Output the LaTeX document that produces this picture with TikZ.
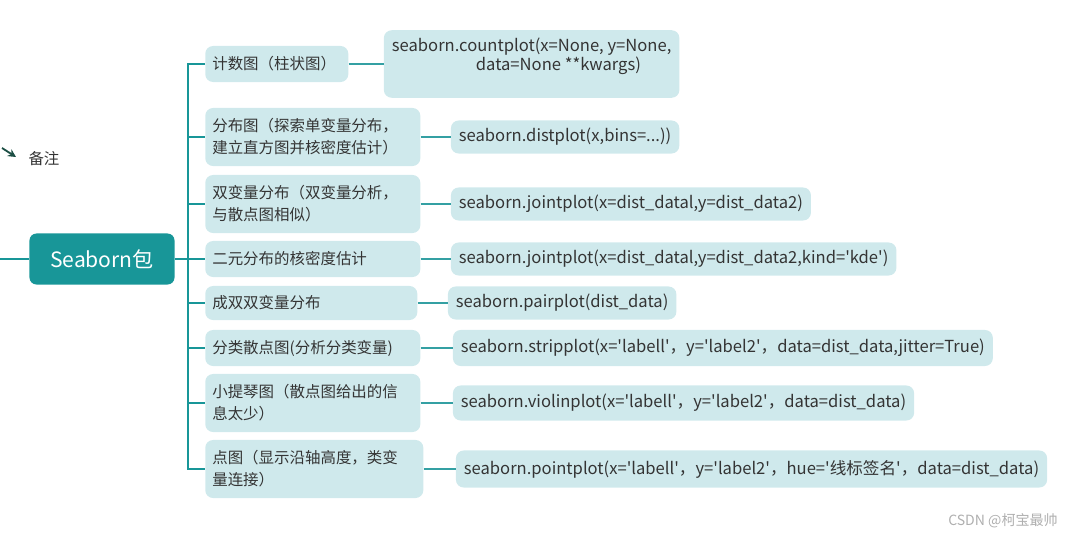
\documentclass[tikz,border=0pt]{standalone}
\usepackage{fontspec}
\setmainfont{Noto Sans CJK SC}
\newfontfamily\codefont{Noto Sans CJK SC}
\usepackage{tikz}
\usetikzlibrary{arrows.meta,positioning}
\definecolor{seateal}{RGB}{24,150,152}
\definecolor{linkteal}{RGB}{52,160,163}
\definecolor{boxfill}{RGB}{207,233,236}
\definecolor{inkgray}{RGB}{52,52,52}
\definecolor{notegreen}{RGB}{28,78,68}
\definecolor{markgray}{RGB}{175,175,175}

\begin{document}
\begin{tikzpicture}[x=0.025cm, y=-0.025cm,
    root/.style={fill=seateal, rounded corners=5pt, text=white, minimum width=3.625cm, minimum height=1.275cm, font=\fontsize{15}{18}\selectfont},
    kind/.style={fill=boxfill, rounded corners=5.5pt, text=inkgray, anchor=west, align=left, text width=#1, inner xsep=0.175cm, minimum height=0.9cm, font=\fontsize{11}{15.6}\selectfont},
    kind/.default=5.025cm,
    code/.style={fill=boxfill, rounded corners=5.5pt, text=inkgray, align=left, inner xsep=0.2cm, minimum height=0.825cm, font=\codefont\fontsize{11.8}{13.5}\selectfont},
    trunk/.style={draw=seateal, line width=1.9pt},
    link/.style={draw=linkteal, line width=1.1pt}
]
\useasboundingbox (0,0) rectangle (1080,539);

\node[root] (sea) at (102,259) {Seaborn包};
\coordinate (edge) at (0,259);
\coordinate (spine) at (188,259);

\node[kind=3.225cm] (l1) at (205,64) {计数图（柱状图）};
\node[kind, minimum height=1.45cm] (l2) at (205,137) {分布图（探索单变量分布，\\建立直方图并核密度估计）};
\node[kind, minimum height=1.45cm] (l3) at (205,204) {双变量分布（双变量分析，\\与散点图相似）};
\node[kind] (l4) at (205,259) {二元分布的核密度估计};
\node[kind=4.95cm, minimum height=0.85cm] (l5) at (205,303) {成双双变量分布};
\node[kind] (l6) at (205,348) {分类散点图(分析分类变量)};
\node[kind, minimum height=1.45cm] (l7) at (205,403) {小提琴图（散点图给出的信\\息太少）};
\node[kind=5.1cm, minimum height=1.45cm] (l8) at (205,469) {点图（显示沿轴高度，类变\\量连接）};

\node[code, right=0.875cm of l1, inner ysep=0.2cm] (c1) {seaborn.countplot(x=None, y=None,\\\hspace*{2.1cm}data=None **kwargs)\\\mbox{}};
\node[code, right=0.75cm of l2] (c2) {seaborn.distplot(x,bins=...))};
\node[code, right=0.75cm of l3] (c3) {seaborn.jointplot(x=dist\_datal,y=dist\_data2)};
\node[code, right=0.75cm of l4] (c4) {seaborn.jointplot(x=dist\_datal,y=dist\_data2,kind='kde')};
\node[code, right=0.75cm of l5] (c5) {seaborn.pairplot(dist\_data)};
\node[code, right=0.8cm of l6, minimum height=0.9cm] (c6) {seaborn.stripplot(x='labell'，y='label2'，data=dist\_data,jitter=True)};
\node[code, right=0.8cm of l7, minimum height=0.875cm] (c7) {seaborn.violinplot(x='labell'，y='label2'，data=dist\_data)};
\node[code, right=0.8cm of l8, minimum height=0.925cm] (c8) {seaborn.pointplot(x='labell'，y='label2'，hue='线标签名'，data=dist\_data)};

% note in the corner
\coordinate (notetail) at (2,148);
\coordinate (notetip) at (16,157);
\node[text=inkgray, font=\fontsize{11}{13}\selectfont] (note) at (44,159) {备注};
\draw[notegreen, line width=1.3pt, -{Stealth[length=2mm,width=2mm]}] (notetail) -- (notetip);

% tree
\draw[trunk] (edge) -- (sea.west);
\draw[trunk] (sea.east) -- (spine);
\draw[trunk] (l1.west) -- (l1.west -| spine) -- (l8.west -| spine) -- (l8.west);
\draw[trunk] (l2.west -| spine) -- (l2.west);
\draw[trunk] (l3.west -| spine) -- (l3.west);
\draw[trunk] (l4.west -| spine) -- (l4.west);
\draw[trunk] (l5.west -| spine) -- (l5.west);
\draw[trunk] (l6.west -| spine) -- (l6.west);
\draw[trunk] (l7.west -| spine) -- (l7.west);

\draw[link] (l1) -- (c1);
\draw[link] (l2) -- (c2);
\draw[link] (l3) -- (c3);
\draw[link] (l4) -- (c4);
\draw[link] (l5) -- (c5);
\draw[link] (l6) -- (c6);
\draw[link] (l7) -- (c7);
\draw[link] (l8) -- (c8);

\node[text=markgray, font=\fontsize{10}{12}\selectfont] (mark) at (1003,521) {CSDN @柯宝最帅};
\end{tikzpicture}
\end{document}
